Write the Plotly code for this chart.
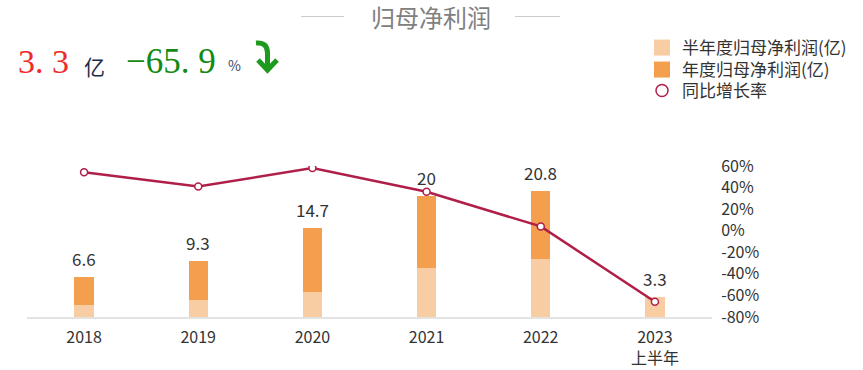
import plotly.graph_objects as go

# ---- data ----
categories = ["2018", "2019", "2020", "2021", "2022", "2023H1"]
tick_labels = ["2018", "2019", "2020", "2021", "2022", "2023<br>上半年"]
annual_profit = [6.6, 9.3, 14.7, 20.0, 20.8, None]      # 年度归母净利润(亿)
half_profit = [2.0, 2.75, 4.07, 8.07, 9.55, 3.3]        # 半年度归母净利润(亿)
yoy_growth = [54.2, 40.9, 58.1, 36.1, 4.0, -65.9]       # 同比增长率(%)
right_ticks = [60, 40, 20, 0, -20, -40, -60, -80]
headline_value = "3. 3"
headline_unit = "亿"
headline_growth = "−65. 9"

# ---- layout geometry ----
W, H = 863, 370
ML, MR, MT, MB = 27, 151, 166, 53
PW, PH = W - ML - MR, H - MT - MB


def px(x):
    return (x - ML) / PW


def py(y):
    return (H - MB - y) / PH


def pt(x, y):
    return f"{px(x):.5f},{py(y):.5f}"


FONT = "Noto Sans CJK SC, Noto Sans, sans-serif"
SERIF = "Liberation Serif, DejaVu Serif, serif"
LIGHT = "#F8CDA3"
DARK = "#F39F4E"
LINE = "#B01F48"
TXT = "#333333"
GREEN = "#1E9A1E"

fig = go.Figure()
fig.add_trace(go.Bar(
    x=categories, y=annual_profit, name="年度归母净利润(亿)",
    marker=dict(color=DARK, line=dict(width=0)), width=0.17,
    showlegend=False, hoverinfo="skip"))
fig.add_trace(go.Bar(
    x=categories, y=half_profit, name="半年度归母净利润(亿)",
    marker=dict(color=LIGHT, line=dict(width=0)), width=0.17,
    showlegend=False, hoverinfo="skip"))
fig.add_trace(go.Scatter(
    x=categories, y=yoy_growth, yaxis="y2", mode="lines+markers",
    line=dict(color=LINE, width=2.5),
    marker=dict(size=7, color="white", line=dict(color=LINE, width=1.5)),
    showlegend=False, hoverinfo="skip"))
# legend-only entries (one legend box per row for exact spacing)
fig.add_trace(go.Scatter(
    x=categories[:1], y=[None], mode="markers", name="半年度归母净利润(亿)",
    marker=dict(size=16, symbol="square", color=LIGHT), legend="legend",
    hoverinfo="skip"))
fig.add_trace(go.Scatter(
    x=categories[:1], y=[None], mode="markers", name="年度归母净利润(亿)",
    marker=dict(size=16, symbol="square", color=DARK), legend="legend2",
    hoverinfo="skip"))
fig.add_trace(go.Scatter(
    x=categories[:1], y=[None], yaxis="y2", mode="markers", name="同比增长率",
    marker=dict(size=12, color="white", line=dict(color=LINE, width=1.5)),
    legend="legend3", hoverinfo="skip"))

annotations = []
# value labels above bars (x given as category index)
for i, (a, h) in enumerate(zip(annual_profit, half_profit)):
    v = a if a is not None else h
    annotations.append(dict(
        x=i, y=v, xref="x", yref="y", text=f"{v:g}", showarrow=False,
        yanchor="bottom", yshift=4, font=dict(size=17, color=TXT, family=FONT)))

# title
annotations.append(dict(
    x=px(431), y=py(16), xref="paper", yref="paper", text="归母净利润",
    showarrow=False, xanchor="center", yanchor="middle",
    font=dict(size=24, color="#808080", family=FONT)))

# headline numbers
annotations += [
    dict(x=px(16), y=py(61), xref="paper", yref="paper", text=headline_value,
         showarrow=False, xanchor="left", yanchor="middle",
         font=dict(size=34, color="#EE2A2A", family=SERIF)),
    dict(x=px(82), y=py(66), xref="paper", yref="paper", text=headline_unit,
         showarrow=False, xanchor="left", yanchor="middle",
         font=dict(size=21, color="#1C2B45", family=FONT)),
    dict(x=px(124), y=py(61), xref="paper", yref="paper", text=headline_growth,
         showarrow=False, xanchor="left", yanchor="middle",
         font=dict(size=35, color="#138A13", family=SERIF)),
    dict(x=px(226), y=py(65), xref="paper", yref="paper", text="%",
         showarrow=False, xanchor="left", yanchor="middle",
         font=dict(size=14, color="#3A4A6A", family=FONT)),
]

shapes = [
    dict(type="line", xref="paper", yref="paper", x0=px(301), x1=px(344),
         y0=py(16.5), y1=py(16.5), line=dict(color="#CCCCCC", width=1)),
    dict(type="line", xref="paper", yref="paper", x0=px(515), x1=px(560),
         y0=py(16.5), y1=py(16.5), line=dict(color="#CCCCCC", width=1)),
    # green hooked down-arrow
    dict(type="path", xref="paper", yref="paper",
         path=f"M{pt(256, 43)} Q{pt(267.5, 42)} {pt(267.5, 53)} L{pt(267.5, 70)}",
         line=dict(color=GREEN, width=5)),
    dict(type="path", xref="paper", yref="paper",
         path=f"M{pt(258, 60)} L{pt(267.5, 70)} L{pt(277, 60)}",
         line=dict(color=GREEN, width=5)),
]


def legend_box(top):
    return dict(x=px(642), y=py(top), xanchor="left", yanchor="top",
                font=dict(size=17, color=TXT, family=FONT),
                bgcolor="rgba(0,0,0,0)", itemwidth=30)


fig.update_layout(
    width=W, height=H,
    margin=dict(l=ML, r=MR, t=MT, b=MB, autoexpand=False),
    paper_bgcolor="white", plot_bgcolor="white",
    barmode="overlay", bargap=0,
    font=dict(family=FONT, color=TXT, size=16),
    xaxis=dict(type="category", categoryorder="array", categoryarray=categories,
               range=[-0.5, len(categories) - 0.5], automargin=False,
               tickmode="array", tickvals=categories, ticktext=tick_labels,
               tickangle=0,
               showgrid=False, zeroline=False, showline=True,
               linecolor="#E3E3E3", linewidth=1.5,
               ticks="outside", ticklen=5, tickcolor="rgba(0,0,0,0)",
               tickfont=dict(size=16, color=TXT, family=FONT)),
    yaxis=dict(range=[0, 25], visible=False, showgrid=False, zeroline=False,
               automargin=False),
    yaxis2=dict(range=[-80, 60], overlaying="y", side="right", automargin=False,
                tickmode="array", tickvals=right_ticks,
                ticktext=[f"{t}%" for t in right_ticks],
                showgrid=False, zeroline=False, showline=False,
                ticks="outside", ticklen=5, tickcolor="rgba(0,0,0,0)",
                tickfont=dict(size=16, color=TXT, family=FONT)),
    legend=legend_box(30),
    legend2=legend_box(52),
    legend3=legend_box(73),
    annotations=annotations, shapes=shapes,
    showlegend=True,
)

fig.write_html("out.html",
               config={"displayModeBar": False},
               post_script="document.body.style.margin='0px';"
                           "document.body.style.overflow='hidden';")
